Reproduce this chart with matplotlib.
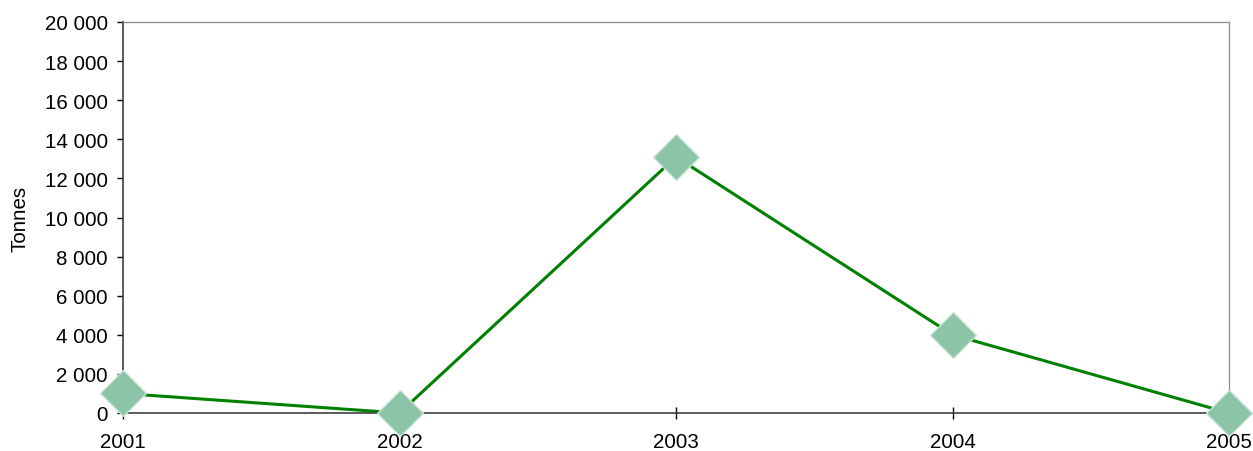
import matplotlib.pyplot as plt
from matplotlib.ticker import FuncFormatter

plt.rcParams['font.family'] = ['Liberation Sans', 'DejaVu Sans']

years = ["2001", "2002", "2003", "2004", "2005"]
tonnes = [1000, 0, 13100, 4000, 0]

fig = plt.figure(figsize=(12.53, 4.52), dpi=100)
ax = fig.add_axes([123 / 1253, 1 - 414 / 452, (1229 - 123) / 1253, (414 - 23) / 452])

xlocs = list(range(len(years)))
ax.plot(xlocs, tonnes, "-", color="#008000", linewidth=2.2, zorder=2, clip_on=False)
ax.plot(xlocs, tonnes, "D", markersize=23, markerfacecolor="#8CC4A8",
        markeredgecolor="#C8E4D6", markeredgewidth=1, linestyle="none",
        zorder=3, clip_on=False)

ax.set_xlim(0, len(years) - 1)
ax.set_ylim(0, 20000)
ax.set_xticks(xlocs)
ax.set_xticklabels(years)
ax.set_yticks(range(0, 20001, 2000))
ax.yaxis.set_major_formatter(FuncFormatter(lambda v, p: f"{int(v):,}".replace(",", " ")))

ax.tick_params(axis="both", labelsize=14.8, colors="black", width=1)
ax.tick_params(axis="x", direction="inout", length=8.6, pad=9.5)
ax.tick_params(axis="y", direction="out", length=4.5, pad=6.5)

for s in ["left", "bottom"]:
    ax.spines[s].set_color("#404040")
    ax.spines[s].set_linewidth(1.2)
for s in ["top", "right"]:
    ax.spines[s].set_color("#888888")
    ax.spines[s].set_linewidth(0.9)

ax.set_ylabel("Tonnes", fontsize=14.8, labelpad=11)

fig.savefig("out.png", dpi=100)
